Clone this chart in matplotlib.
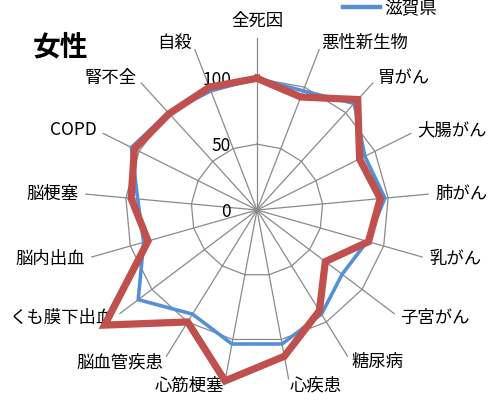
import numpy as np
import matplotlib
matplotlib.use("Agg")
import matplotlib.pyplot as plt
from matplotlib.lines import Line2D

plt.rcParams['font.family'] = ['Noto Sans CJK JP', 'DejaVu Sans']

# ---- data ----
categories = ['全死因', '悪性新生物', '胃がん', '大腸がん', '肺がん', '乳がん', '子宮がん',
              '糖尿病', '心疾患', '心筋梗塞', '脳血管疾患', 'くも膜下出血', '脳内出血',
              '脳梗塞', 'COPD', '腎不全', '自殺']
shiga = [100, 97, 109.5, 91.5, 97.5, 87, 81, 93, 103.5, 103.5, 93, 113, 89.5, 91, 106.5, 100, 97]
target = [100, 92, 113.5, 87, 94, 88, 65, 90, 113, 132, 100, 145, 86, 96, 104, 99, 100]
ring_values = [50, 100]
tick_values = [0, 50, 100]
tick_labels = ['0', '50', '100']
legend_label = '滋賀県'
title = '女性'

# ---- layout ----
W, H = 493, 403
fig = plt.figure(figsize=(W / 100, H / 100), dpi=100)
cx, cy = 257, 210
scale = 1.317  # px per unit
rmax = 150
R = rmax * scale
ax = fig.add_axes([(cx - R) / W, (H - cy - R) / H, 2 * R / W, 2 * R / H], projection='polar')
ax.set_theta_zero_location('N')
ax.set_theta_direction(-1)
ax.set_ylim(0, rmax)
ax.grid(False)
ax.set_xticks([])
ax.set_yticks([])
ax.spines['polar'].set_visible(False)
ax.patch.set_alpha(0)

n = len(categories)
theta = np.arange(n) * 2 * np.pi / n
theta_closed = np.append(theta, theta[0])

grid_color = '#8a8a8a'
spoke_len = 130.5
for t in theta:
    ax.plot([t, t], [0, spoke_len], color=grid_color, lw=0.9, zorder=1, clip_on=False)
for rv in ring_values:
    ax.plot(theta_closed, [rv] * (n + 1), color=grid_color, lw=0.9, zorder=1, clip_on=False)

blue = '#5590D6'
red = '#C0504D'
ax.plot(theta_closed, shiga + shiga[:1], color=blue, lw=2.6, zorder=3,
        solid_joinstyle='miter', clip_on=False)
ax.plot(theta_closed, target + target[:1], color=red, lw=5.2, zorder=4,
        solid_joinstyle='miter', clip_on=False)

# category labels
fs = 12.5
for t, lab in zip(theta, categories):
    s, c = np.sin(t), np.cos(t)
    off = 7.0
    dx, dy = off * s, off * c
    if abs(s) < 0.05:
        ha, va = 'center', 'bottom'
        dx, dy = 0, 8
    else:
        ha = 'left' if s > 0 else 'right'
        va = 'center'
    ax.annotate(lab, xy=(t, spoke_len), xytext=(dx, dy), textcoords='offset pixels',
                ha=ha, va=va, fontsize=fs, color='black', annotation_clip=False)

# radial tick labels
for v, tl in zip(tick_values, tick_labels):
    ax.annotate(tl, xy=(0, v), xytext=(-26, -2), textcoords='offset pixels',
                ha='right', va='center', fontsize=fs, color='black', annotation_clip=False)

# title
fig.text(33 / W, 1 - 47 / H, title, fontsize=20, fontweight='bold', ha='left', va='center')

# legend
handle = Line2D([], [], color=blue, lw=3.2)
fig.legend([handle], [legend_label], loc='center left', bbox_to_anchor=(343 / W, 1 - 8 / H),
           frameon=False, fontsize=12.7, handlelength=2.1, handletextpad=0.25,
           borderpad=0, borderaxespad=0)

fig.savefig('out.png', dpi=100)
